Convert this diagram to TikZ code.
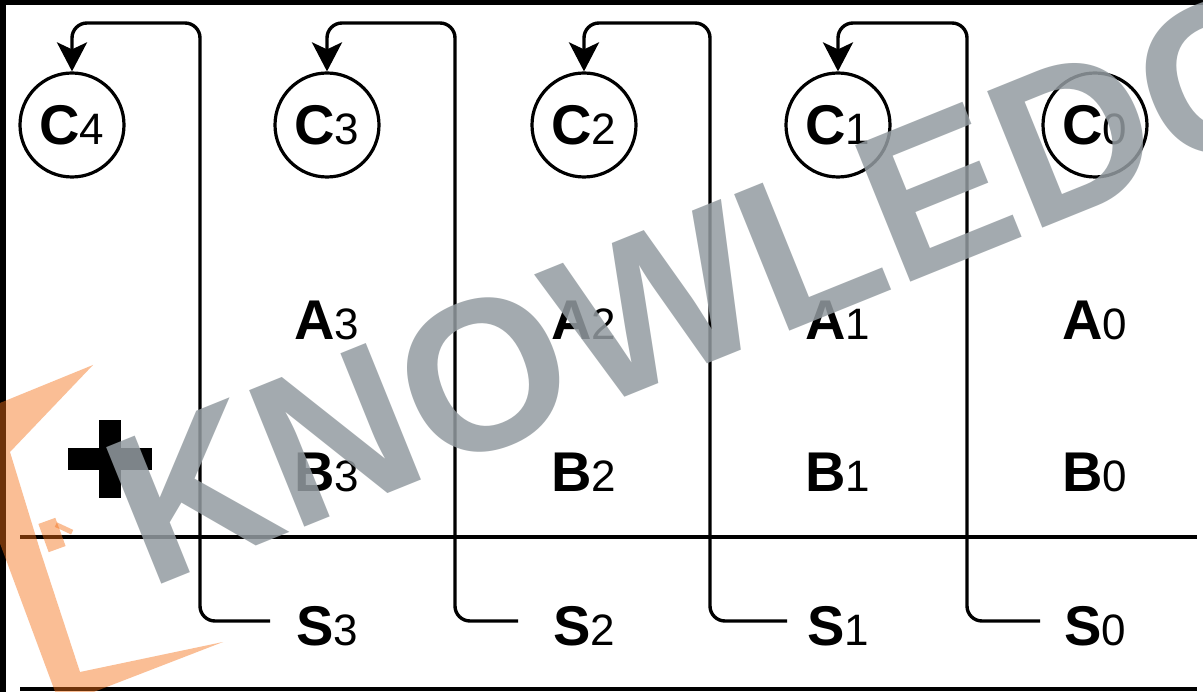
\documentclass[tikz,border=0pt]{standalone}
\usepackage{fontspec}
\setmainfont{Liberation Sans}
\usetikzlibrary{arrows.meta}
\newcommand\bitlab[2]{{\fontsize{56}{60}\selectfont\bfseries #1}{\fontsize{44}{48}\selectfont #2}}
\definecolor{wmgray}{RGB}{148,156,161}
\definecolor{wmorange}{RGB}{244,111,22}
\begin{document}
\begin{tikzpicture}[x=1pt,y=-1pt,
  cnode/.style={circle,draw,line width=3.2pt,minimum size=104pt,inner sep=0pt},
  lab/.style={anchor=base,inner sep=0pt},
  conn/.style={line width=3.4pt,rounded corners=15pt,-{Stealth[length=29pt,width=30pt,inset=7pt]}},
  rulestyle/.style={line width=3.6pt},
  wm/.style={text=wmgray,text opacity=0.85,inner sep=0pt,font=\fontsize{214}{214}\selectfont\bfseries}]
\useasboundingbox (0,0) rectangle (1203,692);
\clip (0,0) rectangle (1203,692);
\fill[white] (0,0) rectangle (1203,692);
\fill[black] (0,0) rectangle (1203,5);
\fill[black] (0,0) rectangle (6,692);

% carry circles
\node[cnode] (c4) at (72,125) {\bitlab{C}{4}};
\node[cnode] (c3) at (327,125) {\bitlab{C}{3}};
\node[cnode] (c2) at (584,125) {\bitlab{C}{2}};
\node[cnode] (c1) at (838,125) {\bitlab{C}{1}};
\node[cnode] (c0) at (1095,125) {\bitlab{C}{0}};

% operands
\node[lab] (a3) at (327,340) {\bitlab{A}{3}};
\node[lab] (a2) at (584,340) {\bitlab{A}{2}};
\node[lab] (a1) at (838,340) {\bitlab{A}{1}};
\node[lab] (a0) at (1095,340) {\bitlab{A}{0}};
\node[lab] (b3) at (327,492) {\bitlab{B}{3}};
\node[lab] (b2) at (584,492) {\bitlab{B}{2}};
\node[lab] (b1) at (838,492) {\bitlab{B}{1}};
\node[lab] (b0) at (1095,492) {\bitlab{B}{0}};
\node[lab] (s3) at (327,645) {\bitlab{S}{3}};
\node[lab] (s2) at (584,645) {\bitlab{S}{2}};
\node[lab] (s1) at (838,645) {\bitlab{S}{1}};
\node[lab] (s0) at (1095,645) {\bitlab{S}{0}};

% plus sign
\fill[black] (68,448) rectangle (152,470);
\fill[black] (99,420) rectangle (121,498);

% rules
\coordinate (l1a) at (20,537); \coordinate (l1b) at (1197,537);
\coordinate (l2a) at (20,689); \coordinate (l2b) at (1197,689);
\draw[rulestyle] (l1a) -- (l1b);
\draw[rulestyle] (l2a) -- (l2b);

% carry connectors
\coordinate (e3) at (270,621); \coordinate (v3) at (200,23);
\coordinate (e2) at (518,621); \coordinate (v2) at (455,23);
\coordinate (e1) at (787,621); \coordinate (v1) at (710,23);
\coordinate (e0) at (1040,621); \coordinate (v0) at (967,23);
\draw[conn] (e3) -| (v3) -| (c4.north);
\draw[conn] (e2) -| (v2) -| (c3.north);
\draw[conn] (e1) -| (v1) -| (c2.north);
\draw[conn] (e0) -| (v0) -| (c1.north);

% watermark
\fill[wmorange,fill opacity=0.45] (-5,405) -- (93,365) -- (10,452) -- (40,550) -- (80,672) -- (223,642) -- (60,705) -- (-5,530) -- cycle;
\fill[wmorange,fill opacity=0.45,rotate around={20:(52,535)}] (43,520) rectangle (61,550);
\fill[wmorange,fill opacity=0.45,rotate around={-25:(62,528)}] (55,525) rectangle (73,530);
\node[wm,rotate=22,anchor=base west] (wmtext) at (148,590) {KNOWLEDGE};
\end{tikzpicture}
\end{document}
